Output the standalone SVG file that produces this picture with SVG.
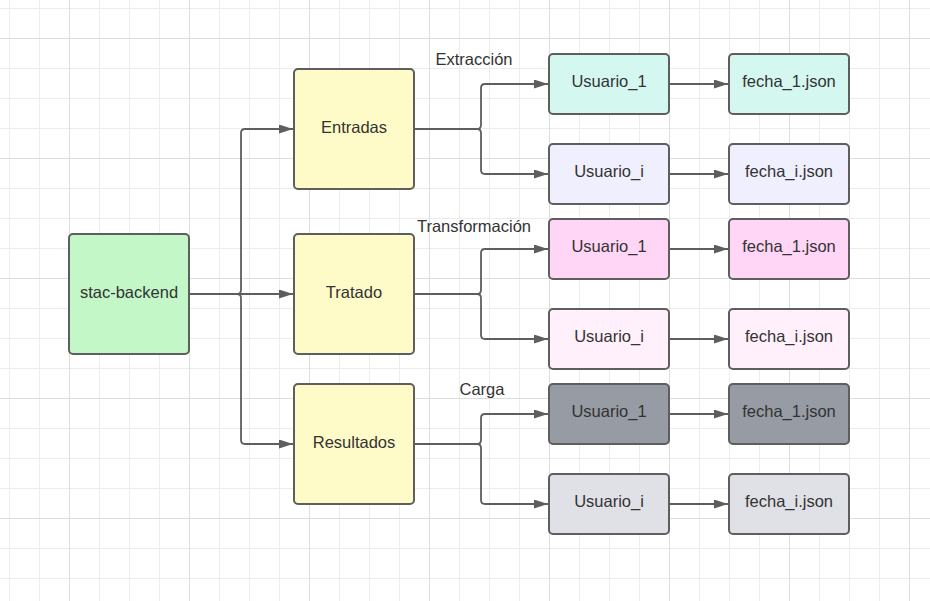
<svg xmlns="http://www.w3.org/2000/svg" width="930" height="601" viewBox="0 0 930 601">
  <defs>
    <pattern id="minor" patternUnits="userSpaceOnUse" x="9" y="8" width="30" height="30">
      <path d="M0.5,0 V30 M0,0.5 H30" fill="none" stroke="#ececec" stroke-width="1"/>
    </pattern>
    <pattern id="major" patternUnits="userSpaceOnUse" x="69" y="38" width="120" height="120">
      <path d="M0.5,0 V120 M0,0.5 H120" fill="none" stroke="#dddddd" stroke-width="1"/>
    </pattern>
    <marker id="arrow" markerUnits="userSpaceOnUse" markerWidth="15" markerHeight="10" refX="14" refY="4.5" orient="auto">
      <path d="M0,0 L14,4.5 L0,9 z" fill="#5e5e5e"/>
    </marker>
  </defs>
  <style>
    .node { stroke: #5e5e5e; stroke-width: 2; }
    .txt { font-family: "Liberation Sans", Arial, sans-serif; font-size: 16.5px; fill: #333333; text-anchor: middle; }
    .lbl { font-family: "Liberation Sans", Arial, sans-serif; font-size: 16.5px; fill: #333333; text-anchor: middle; }
    .edge { fill: none; stroke: #5e5e5e; stroke-width: 1.8; }
    .arr { marker-end: url(#arrow); }
  </style>
  <rect width="930" height="601" fill="#ffffff"/>
  <rect width="930" height="601" fill="url(#minor)"/>
  <rect width="930" height="601" fill="url(#major)"/>

  <g id="connectors">
    <path class="edge arr" d="M189,294 H237 Q241,294 241,290 V133 Q241,129 245,129 H293"/>
    <path class="edge arr" d="M189,294 H293"/>
    <path class="edge arr" d="M189,294 H237 Q241,294 241,298 V440 Q241,444 245,444 H293"/>

    <path class="edge arr" d="M414,129 H477 Q481,129 481,125 V88 Q481,84 485,84 H548"/>
    <path class="edge arr" d="M414,129 H477 Q481,129 481,133 V170 Q481,174 485,174 H548"/>

    <path class="edge arr" d="M414,294 H477 Q481,294 481,290 V253 Q481,249 485,249 H548"/>
    <path class="edge arr" d="M414,294 H477 Q481,294 481,298 V335 Q481,339 485,339 H548"/>

    <path class="edge arr" d="M414,444 H477 Q481,444 481,440 V418 Q481,414 485,414 H548"/>
    <path class="edge arr" d="M414,444 H477 Q481,444 481,448 V500 Q481,504 485,504 H548"/>

    <path class="edge arr" d="M669,84 H728"/>
    <path class="edge arr" d="M669,174 H728"/>
    <path class="edge arr" d="M669,249 H728"/>
    <path class="edge arr" d="M669,339 H728"/>
    <path class="edge arr" d="M669,414 H728"/>
    <path class="edge arr" d="M669,504 H728"/>
  </g>

  <g id="labels">
    <text class="lbl" x="474" y="65">Extracción</text>
    <text class="lbl" x="474" y="232">Transformación</text>
    <text class="lbl" x="482" y="395">Carga</text>
  </g>

  <g id="stac-backend">
    <rect class="node" x="69" y="234" width="120" height="120" rx="4" fill="#c3f7c8"/>
    <text class="txt" x="129" y="298">stac-backend</text>
  </g>
  <g id="entradas">
    <rect class="node" x="294" y="69" width="120" height="120" rx="4" fill="#fefbc8"/>
    <text class="txt" x="354" y="133">Entradas</text>
  </g>
  <g id="tratado">
    <rect class="node" x="294" y="234" width="120" height="120" rx="4" fill="#fefbc8"/>
    <text class="txt" x="354" y="298">Tratado</text>
  </g>
  <g id="resultados">
    <rect class="node" x="294" y="384" width="120" height="120" rx="4" fill="#fefbc8"/>
    <text class="txt" x="354" y="448">Resultados</text>
  </g>

  <g id="ext-usuario-1">
    <rect class="node" x="549" y="54" width="120" height="60" rx="4" fill="#d4f7f0"/>
    <text class="txt" x="609" y="87">Usuario_1</text>
  </g>
  <g id="ext-usuario-i">
    <rect class="node" x="549" y="144" width="120" height="60" rx="4" fill="#efeffd"/>
    <text class="txt" x="609" y="177">Usuario_i</text>
  </g>
  <g id="ext-fecha-1">
    <rect class="node" x="729" y="54" width="120" height="60" rx="4" fill="#d4f7f0"/>
    <text class="txt" x="789" y="87">fecha_1.json</text>
  </g>
  <g id="ext-fecha-i">
    <rect class="node" x="729" y="144" width="120" height="60" rx="4" fill="#efeffd"/>
    <text class="txt" x="789" y="177">fecha_i.json</text>
  </g>

  <g id="tra-usuario-1">
    <rect class="node" x="549" y="219" width="120" height="60" rx="4" fill="#ffd6f5"/>
    <text class="txt" x="609" y="252">Usuario_1</text>
  </g>
  <g id="tra-usuario-i">
    <rect class="node" x="549" y="309" width="120" height="60" rx="4" fill="#fff0fb"/>
    <text class="txt" x="609" y="342">Usuario_i</text>
  </g>
  <g id="tra-fecha-1">
    <rect class="node" x="729" y="219" width="120" height="60" rx="4" fill="#ffd6f5"/>
    <text class="txt" x="789" y="252">fecha_1.json</text>
  </g>
  <g id="tra-fecha-i">
    <rect class="node" x="729" y="309" width="120" height="60" rx="4" fill="#fff0fb"/>
    <text class="txt" x="789" y="342">fecha_i.json</text>
  </g>

  <g id="car-usuario-1">
    <rect class="node" x="549" y="384" width="120" height="60" rx="4" fill="#979ba3"/>
    <text class="txt" x="609" y="417">Usuario_1</text>
  </g>
  <g id="car-usuario-i">
    <rect class="node" x="549" y="474" width="120" height="60" rx="4" fill="#dfe1e6"/>
    <text class="txt" x="609" y="507">Usuario_i</text>
  </g>
  <g id="car-fecha-1">
    <rect class="node" x="729" y="384" width="120" height="60" rx="4" fill="#979ba3"/>
    <text class="txt" x="789" y="417">fecha_1.json</text>
  </g>
  <g id="car-fecha-i">
    <rect class="node" x="729" y="474" width="120" height="60" rx="4" fill="#dfe1e6"/>
    <text class="txt" x="789" y="507">fecha_i.json</text>
  </g>
</svg>
